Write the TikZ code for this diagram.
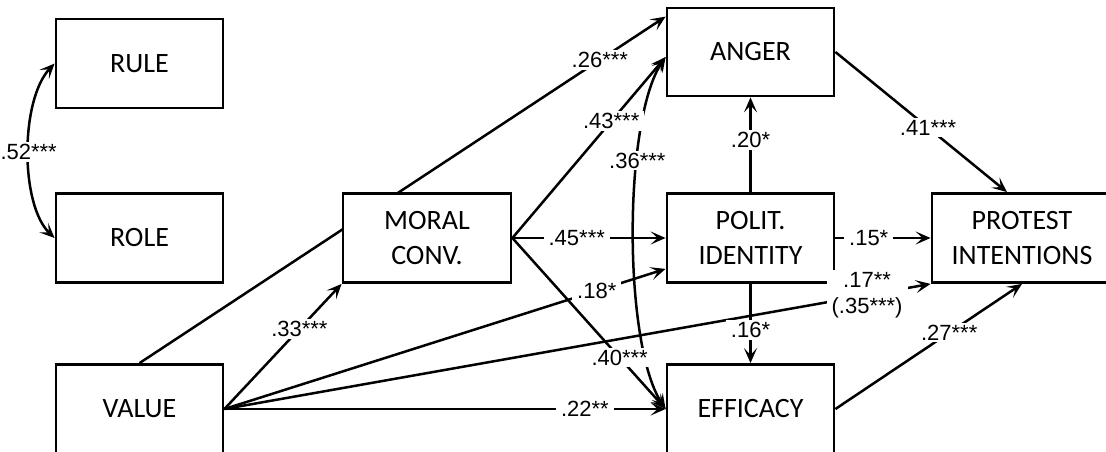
\documentclass[tikz,border=0pt]{standalone}
\usepackage{fontspec}
\setmainfont{Carlito}
\newfontfamily\lblfont{Liberation Sans}
\usetikzlibrary{arrows.meta,calc,backgrounds}
\begin{document}
\begin{tikzpicture}[x=1pt,y=-1pt,
  >={Stealth[length=15pt,width=13pt,inset=7pt]},
  box/.style={draw=black,line width=2.8pt,fill=white,minimum width=167pt,minimum height=89pt,inner sep=0pt,align=center,font=\fontsize{28}{35}\selectfont},
  conn/.style={line width=2.5pt,->},
  dbl/.style={line width=2.5pt,<->},
  lbl/.style={fill=white,inner xsep=5pt,inner ysep=2pt,align=center,font=\lblfont\fontsize{22}{26}\selectfont}]
\useasboundingbox (0,0) rectangle (1106,452);
% nodes
\node[box] (rule) at (139.5,63.5) {RULE};
\node[box] (role) at (139.5,238) {ROLE};
\node[box] (value) at (139.5,409) {VALUE};
\node[box,minimum width=168pt] (moral) at (427,238) {MORAL\\CONV.};
\node[box,minimum height=88pt] (anger) at (750.5,52) {ANGER};
\node[box] (polit) at (750.5,238) {POLIT.\\IDENTITY};
\node[box] (eff) at (750.5,409) {EFFICACY};
\node[box,minimum width=180pt] (protest) at (1022,238) {PROTEST\\INTENTIONS};
% line passing behind MORAL CONV.
\begin{scope}[on background layer]
\draw[conn] (value.north) -- node[lbl,pos=0.875]{.26***} ($(anger.north west)+(0,10)$);
\end{scope}
% correlations
\draw[dbl] (rule.west) .. controls (20,100) and (20,205) .. (role.west) node[lbl,pos=0.5]{.52***};
\draw[dbl] ($(anger.west)+(0,5)$) .. controls (623,120) and (623,345) .. (eff.west) node[lbl,pos=0.33]{.36***};
% paths
\draw[conn] (value.east) -- node[lbl,pos=0.64]{.33***} (moral.south west);
\draw[conn] (value.east) -- node[lbl,pos=0.844]{.18*} ($(polit.south west)+(0,-15)$);
\draw[conn] (value.east) -- node[lbl,pos=0.91]{.17**\\(.35***)} (protest.south west);
\draw[conn] (value.east) -- node[lbl,pos=0.817]{.22**} (eff.west);
\draw[conn] (moral.east) -- node[lbl,pos=0.42]{.45***} (polit.west);
\draw[conn] (moral.east) -- node[lbl,pos=0.645]{.43***} ($(anger.west)+(0,5)$);
\draw[conn] (moral.east) -- node[lbl,pos=0.70]{.40***} (eff.west);
\draw[conn] (polit.north) -- node[lbl,pos=0.55]{.20*} (anger.south);
\draw[conn] (polit.south) -- node[lbl,pos=0.58]{.16*} (eff.north);
\draw[conn] (polit.east) -- node[lbl,pos=0.35]{.15*} (protest.west);
\draw[conn] (anger.east) -- node[lbl,pos=0.54]{.41***} ($(protest.north)+(-15,0)$);
\draw[conn] (eff.east) -- node[lbl,pos=0.61]{.27***} (protest.south);
\end{tikzpicture}
\end{document}
